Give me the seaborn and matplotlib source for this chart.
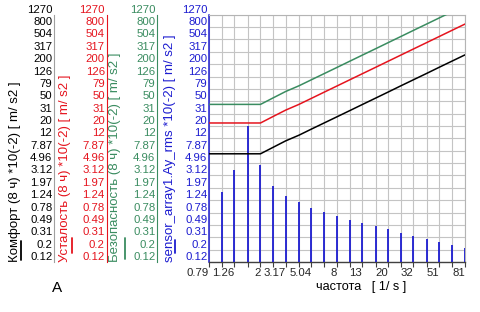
import matplotlib
matplotlib.use("Agg")
import matplotlib.pyplot as plt
import seaborn as sns
import pandas as pd
from matplotlib.ticker import NullFormatter

# ---------------- data ----------------
line_freqs = [0.79, 1.0, 1.25, 1.6, 2.0, 2.5, 3.15, 4.0, 5.0, 6.3, 8.0, 10.0, 12.5,
              16.0, 20.0, 25.0, 31.5, 40.0, 50.0, 63.0, 80.0]
comfort = [7.1, 7.1, 7.1, 7.1, 7.1, 9.0, 11.5, 14.2, 17.8, 22.4, 28.4, 35.5, 44.4,
           56.8, 71.0, 89.0, 112.0, 142.0, 178.0, 224.0, 284.0]
fatigue = [22.4, 22.4, 22.4, 22.4, 22.4, 28.4, 36.2, 44.8, 56.0, 70.6, 89.6, 112.0, 140.0,
           179.0, 224.0, 280.0, 353.0, 448.0, 560.0, 706.0, 896.0]
safety = [44.8, 44.8, 44.8, 44.8, 44.8, 56.8, 72.5, 89.6, 112.0, 141.0, 179.0, 224.0, 280.0,
          358.0, 448.0, 560.0, 706.0, 896.0, 1120.0, 1411.0, 1792.0]

bar_freqs = [1.0, 1.25, 1.6, 2.0, 2.5, 3.15, 4.0, 5.0, 6.3, 8.0, 10.0, 12.5,
             16.0, 20.0, 25.0, 31.5, 40.0, 50.0, 63.0, 80.0]
bar_vals = [1.69, 3.89, 20.2, 4.67, 2.14, 1.46, 1.16, 0.95, 0.81, 0.69, 0.61, 0.54,
            0.475, 0.425, 0.375, 0.335, 0.296, 0.268, 0.237, 0.212]

y_ticks = [0.127, 0.2, 0.317, 0.5, 0.79, 1.26, 2.0, 3.17, 5.0, 7.9, 12.6, 20.0, 31.7,
           50.0, 79.0, 126.0, 200.0, 317.0, 504.0, 800.0, 1270.0]
y_labels = ["0.12", "0.2", "0.31", "0.49", "0.78", "1.24", "1.97", "3.12", "4.96", "7.87",
            "12", "20", "31", "50", "79", "126", "200", "317", "504", "800", "1270"]

x_ticks = [0.79, 1.25, 2.0, 3.15, 5.0, 8.0, 12.5, 20.0, 31.5, 50.0, 80.0]
x_labels = ["0.79", "1.26", "2", "3.17", "5.04", "8", "13", "20", "32", "51", "81"]

names = ["Комфорт", "Усталость", "Безопасность"]
axis_titles = ["Комфорт (8 ч) *10(-2) [ m/ s2 ]",
               "Усталость (8 ч) *10(-2) [ m/ s2 ]",
               "Безопасность (8 ч) *10(-2) [ m/ s2 ]",
               "sensor_array1.Ay_rms *10(-2) [ m/ s2 ]"]

BLACK = "#000000"
RED = "#e5141e"
GREEN = "#3a8c60"
BLUE = "#1c1cd0"
GRID = "#c4c4c4"

sns.set_theme(style="white")
plt.rcParams["font.family"] = ["Liberation Sans", "DejaVu Sans"]

df = pd.DataFrame({
    "f": line_freqs * 3,
    "v": comfort + fatigue + safety,
    "s": [names[0]] * len(line_freqs) + [names[1]] * len(line_freqs) + [names[2]] * len(line_freqs),
})

W, H = 480, 312
fig = plt.figure(figsize=(4.8, 3.12), dpi=100)
L, R, T, B = 209, 465, 14.7, 261.7
ax = fig.add_axes([L / W, 1 - B / H, (R - L) / W, (B - T) / H])
ax.set_xscale("log")
ax.set_yscale("log")
ymin, ymax = 0.127, 1270.0
ax.set_xlim(0.79, 80.0)
ax.set_ylim(ymin, ymax)

TICK_FS = 8.2

# grid
ax.set_xticks(bar_freqs, minor=True)
ax.xaxis.set_minor_formatter(NullFormatter())
ax.set_xticks(x_ticks, x_labels)
ax.set_yticks(y_ticks, y_labels)
ax.yaxis.set_minor_formatter(NullFormatter())
ax.set_yticks([], minor=True)
ax.grid(True, which="both", color=GRID, linewidth=0.8)
ax.set_axisbelow(True)

# bars
ax.vlines(bar_freqs, ymin, bar_vals, colors=BLUE, linewidth=1.3, zorder=3)

# limit lines
sns.lineplot(data=df, x="f", y="v", hue="s", palette=[BLACK, RED, GREEN],
             linewidth=1.1, legend=False, ax=ax, zorder=4)
for ln in ax.lines:
    ln.set_clip_on(True)
ax.set_xlabel("")
ax.set_ylabel("")

# spines / ticks of main axes
for side in ["top", "right"]:
    ax.spines[side].set_color("#b4b4b4")
    ax.spines[side].set_linewidth(0.8)
ax.spines["left"].set_color(BLUE)
ax.spines["left"].set_linewidth(1.1)
ax.spines["bottom"].set_color("#404040")
ax.spines["bottom"].set_linewidth(1.0)
ax.tick_params(axis="x", which="both", direction="out", length=3.5, width=0.8,
               color="#404040", labelsize=TICK_FS, pad=1.0, bottom=True)
ax.tick_params(axis="y", which="both", length=0, labelsize=TICK_FS, pad=1.2,
               labelcolor=BLUE, left=True)
for t in ax.get_xticklabels():
    t.set_horizontalalignment("right")
for t in ax.get_yticklabels():
    t.set_verticalalignment("bottom")

# extra left axes
for col, off in [(GREEN, 37.4), (RED, 73.8), ("#000000", 111.6)]:
    par = ax.twinx()
    par.set_yscale("log")
    par.set_ylim(ymin, ymax)
    par.yaxis.tick_left()
    par.spines["left"].set_visible(True)
    par.spines["left"].set_position(("outward", off))
    par.spines["left"].set_color("#a0a0a0" if col == "#000000" else col)
    par.spines["left"].set_linewidth(0.8)
    for side in ["right", "top", "bottom"]:
        par.spines[side].set_visible(False)
    par.set_yticks(y_ticks, y_labels)
    par.set_yticks([], minor=True)
    par.tick_params(axis="y", which="both", length=0, labelsize=TICK_FS, pad=1.2,
                    labelcolor=col)
    for t in par.get_yticklabels():
        t.set_verticalalignment("bottom")

# axis titles (rotated) with small legend marks
for x, col, txt in [(15, BLACK, axis_titles[0]), (65, RED, axis_titles[1]),
                    (115, GREEN, axis_titles[2]), (170, BLUE, axis_titles[3])]:
    fig.text(x / W, 1 - 261.5 / H, txt, rotation=90, ha="center", va="bottom",
             color=col, fontsize=9.5)
for x, col, y0, y1 in [(21, BLACK, 241, 260), (72, RED, 238, 253),
                       (125, GREEN, 238, 259), (175, BLUE, 240, 253)]:
    fig.add_artist(plt.Line2D([x / W, x / W], [1 - y0 / H, 1 - y1 / H],
                              color=col, linewidth=1.3))

fig.text(57 / W, 1 - 288 / H, "A", ha="center", va="center", fontsize=11, color="black")
fig.text(361 / W, 1 - 287 / H, "частота   [ 1/ s ]", ha="center", va="center",
         fontsize=9.2, color="black")

fig.savefig("out.png", dpi=100)
